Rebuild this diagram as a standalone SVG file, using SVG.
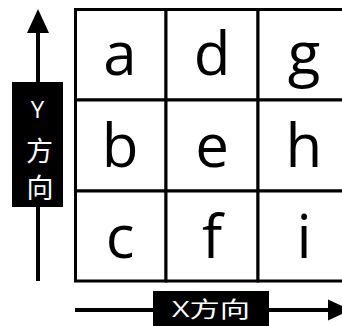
<svg xmlns="http://www.w3.org/2000/svg" width="342" height="326" viewBox="0 0 342 326">
<style>
.cell rect{fill:#fff;stroke:#000;stroke-width:3}
.cell text{font-family:"Open Sans","Noto Sans",sans-serif;font-size:60px;fill:#000;text-anchor:middle}
.lbl{fill:#000}
.lt{font-family:"Open Sans","Noto Sans CJK SC",sans-serif;fill:#fff;text-anchor:middle}
.ax{stroke:#000;stroke-width:4;fill:none}
</style>
<rect width="342" height="326" fill="#fff"/>
<g id="connectors">
<line class="ax" x1="38" y1="281" x2="38" y2="30"/>
<polygon points="38,9 27,33 49,33" fill="#000"/>
<line class="ax" x1="75" y1="310" x2="330" y2="310"/>
<polygon points="328,299.5 328,320.5 351,310" fill="#000"/>
</g>
<g id="cell-a" class="cell"><rect x="75.5" y="9.5" width="90.5" height="90.5"/><text x="120" y="75">a</text></g>
<g id="cell-d" class="cell"><rect x="166" y="9.5" width="92" height="90.5"/><text x="212" y="75">d</text></g>
<g id="cell-g" class="cell"><rect x="258" y="9.5" width="92" height="90.5"/><text x="304" y="75">g</text></g>
<g id="cell-b" class="cell"><rect x="75.5" y="100" width="90.5" height="91"/><text x="120" y="166.5">b</text></g>
<g id="cell-e" class="cell"><rect x="166" y="100" width="92" height="91"/><text x="212" y="166.5">e</text></g>
<g id="cell-h" class="cell"><rect x="258" y="100" width="92" height="91"/><text x="304" y="166.5">h</text></g>
<g id="cell-c" class="cell"><rect x="75.5" y="191" width="90.5" height="90"/><text x="120" y="258">c</text></g>
<g id="cell-f" class="cell"><rect x="166" y="191" width="92" height="90"/><text x="212" y="258">f</text></g>
<g id="cell-i" class="cell"><rect x="258" y="191" width="92" height="90"/><text x="304" y="258">i</text></g>
<g id="label-y">
<rect class="lbl" x="12" y="82" width="51" height="125"/>
<text class="lt" x="37.5" y="117.5" font-size="24">Y</text>
<text class="lt" x="39.5" y="161" font-size="27">方</text>
<text class="lt" x="40" y="198" font-size="27">向</text>
</g>
<g id="label-x">
<rect class="lbl" x="153" y="291" width="116" height="36"/>
<text class="lt" x="211" y="317" font-size="22" textLength="78" lengthAdjust="spacingAndGlyphs">X方向</text>
</g>
</svg>
